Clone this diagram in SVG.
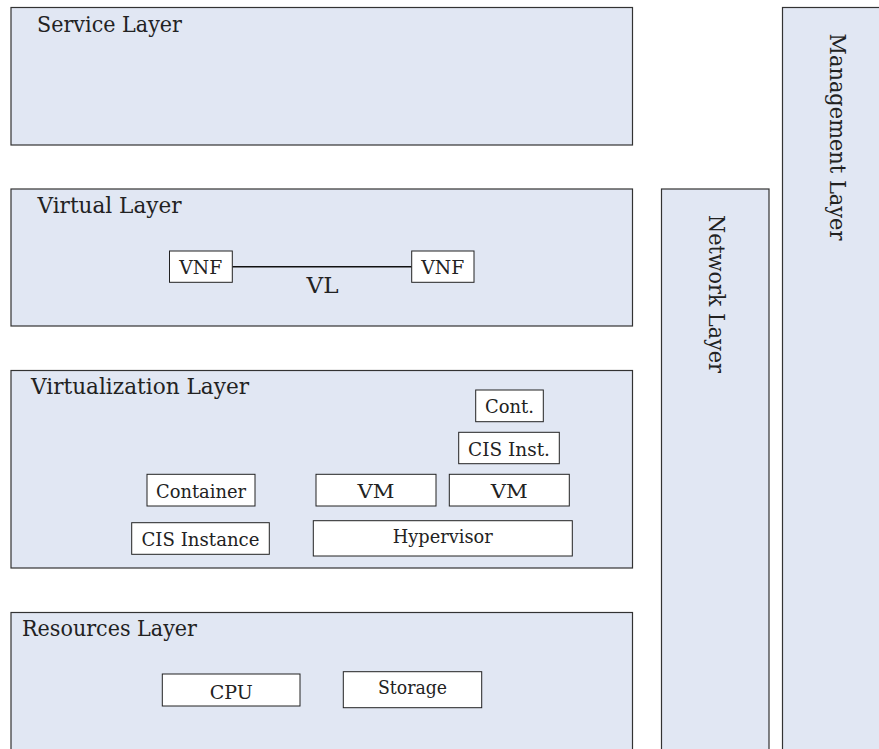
<svg xmlns="http://www.w3.org/2000/svg" width="879" height="749" viewBox="0 0 879 749">
<style>
.layer{fill:#e1e7f3;stroke:#333;stroke-width:1.2}
.node{fill:#fff;stroke:#222;stroke-width:1}
text{font-family:'DejaVu Serif',serif;fill:#222}
.title{font-size:22px}
.lbl{font-size:19px;text-anchor:middle}
.edge{stroke:#111;stroke-width:1.6;fill:none}
</style>
<rect width="879" height="749" fill="#fff"/>
<g id="service-layer">
<rect class="layer" x="11" y="7.5" width="621.5" height="137.5"/>
<text class="title" x="37" y="31.5" textLength="145" lengthAdjust="spacingAndGlyphs">Service Layer</text>
</g>
<g id="virtual-layer">
<rect class="layer" x="11" y="189" width="621.5" height="137"/>
<text class="title" x="37.5" y="212.5" textLength="144" lengthAdjust="spacingAndGlyphs">Virtual Layer</text>
</g>
<g id="virtualization-layer">
<rect class="layer" x="11" y="370.5" width="621.5" height="197.5"/>
<text class="title" x="31" y="393.5" textLength="218" lengthAdjust="spacingAndGlyphs">Virtualization Layer</text>
</g>
<g id="resources-layer">
<rect class="layer" x="11" y="612.5" width="621.5" height="150"/>
<text class="title" x="22" y="635.5" textLength="175" lengthAdjust="spacingAndGlyphs">Resources Layer</text>
</g>
<g id="network-layer">
<rect class="layer" x="661.5" y="189" width="107.5" height="580"/>
<text class="title" transform="translate(709,215) rotate(90)" x="0" y="0" textLength="158" lengthAdjust="spacingAndGlyphs">Network Layer</text>
</g>
<g id="management-layer">
<rect class="layer" x="782.5" y="7.5" width="110" height="760"/>
<text class="title" transform="translate(830,33.5) rotate(90)" x="0" y="0" textLength="207" lengthAdjust="spacingAndGlyphs">Management Layer</text>
</g>
<g id="connectors">
<line class="edge" x1="232.3" y1="266.7" x2="411.7" y2="266.7"/>
<text class="title" x="322.5" y="292.5" text-anchor="middle" textLength="32" lengthAdjust="spacingAndGlyphs">VL</text>
</g>
<g id="vnf-1">
<rect class="node" x="169.5" y="251" width="62.8" height="31.3"/>
<text class="lbl" x="200.8" y="273.5" textLength="43" lengthAdjust="spacingAndGlyphs">VNF</text>
</g>
<g id="vnf-2">
<rect class="node" x="411.7" y="251" width="62.3" height="31.3"/>
<text class="lbl" x="442.8" y="273.5" textLength="43" lengthAdjust="spacingAndGlyphs">VNF</text>
</g>
<g id="cont">
<rect class="node" x="475.7" y="390" width="67.6" height="31.7"/>
<text class="lbl" x="509.5" y="412.7" textLength="49" lengthAdjust="spacingAndGlyphs">Cont.</text>
</g>
<g id="cis-inst">
<rect class="node" x="458.7" y="432.3" width="100.6" height="31.4"/>
<text class="lbl" x="509" y="456" textLength="82" lengthAdjust="spacingAndGlyphs">CIS Inst.</text>
</g>
<g id="container">
<rect class="node" x="147" y="474.3" width="108" height="31.7"/>
<text class="lbl" x="201" y="498.3" textLength="90" lengthAdjust="spacingAndGlyphs">Container</text>
</g>
<g id="vm-1">
<rect class="node" x="316" y="474.3" width="120" height="31.7"/>
<text class="lbl" x="376" y="498.3" textLength="37" lengthAdjust="spacingAndGlyphs">VM</text>
</g>
<g id="vm-2">
<rect class="node" x="449.3" y="474.3" width="120" height="31.7"/>
<text class="lbl" x="509.3" y="498.3" textLength="37" lengthAdjust="spacingAndGlyphs">VM</text>
</g>
<g id="cis-instance">
<rect class="node" x="131.7" y="522.7" width="137.6" height="31.6"/>
<text class="lbl" x="200.5" y="546" textLength="118" lengthAdjust="spacingAndGlyphs">CIS Instance</text>
</g>
<g id="hypervisor">
<rect class="node" x="313.3" y="520.7" width="259" height="35.3"/>
<text class="lbl" x="442.8" y="543.3" textLength="100" lengthAdjust="spacingAndGlyphs">Hypervisor</text>
</g>
<g id="cpu">
<rect class="node" x="162.3" y="674" width="137.7" height="32"/>
<text class="lbl" x="231.2" y="698.5" textLength="43" lengthAdjust="spacingAndGlyphs">CPU</text>
</g>
<g id="storage">
<rect class="node" x="343.3" y="671.7" width="138.4" height="36"/>
<text class="lbl" x="412.5" y="694" textLength="69" lengthAdjust="spacingAndGlyphs">Storage</text>
</g>
</svg>
